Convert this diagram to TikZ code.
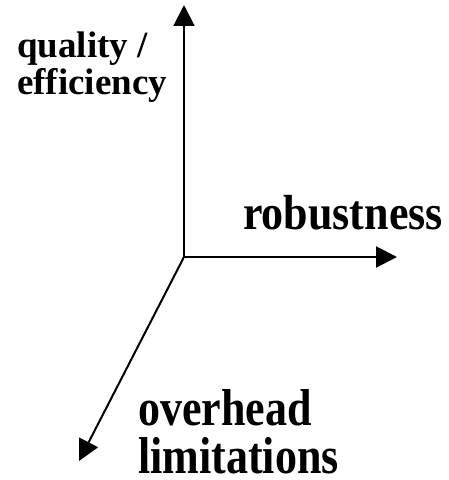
\documentclass[tikz,border=0pt]{standalone}
\usepackage{fontspec}
\setmainfont{Liberation Serif}
\usetikzlibrary{arrows.meta}

\begin{document}
\begin{tikzpicture}[x=1pt, y=1pt,
    axis/.style={line width=2pt, -{Triangle[length=21pt, width=21pt]}},
    lbl/.style={inner sep=0pt, align=left, font=\bfseries, transform shape}]
  % 1. 枠 (448 x 480)
  \useasboundingbox (0,0) rectangle (448,480);

  % 2. 原点と軸の端
  \coordinate (O) at (184,223);
  \coordinate (Q) at (184,475);
  \coordinate (R) at (397,223);
  \coordinate (L) at (79,19);

  % 3. 軸
  \draw[axis] (O) -- (Q);
  \draw[axis] (O) -- (R);
  \draw[axis] (O) -- (L);

  % 4. ラベルの位置
  \coordinate (qpos) at (17,448);
  \coordinate (rpos) at (243,250);
  \coordinate (opos) at (138,91);

  % 5. ラベル (縦に少し伸ばす)
  \node[lbl, anchor=north west, font=\bfseries\fontsize{37}{37}\selectfont]
    (quality) at (qpos) {quality /\\efficiency};
  \node[lbl, anchor=base west, yscale=1.12, font=\bfseries\fontsize{44}{48}\selectfont]
    (robust) at (rpos) {robustness};
  \node[lbl, anchor=north west, yscale=1.18, font=\bfseries\fontsize{44}{40.5}\selectfont]
    (overhead) at (opos) {overhead\\limitations};

\end{tikzpicture}
\end{document}
